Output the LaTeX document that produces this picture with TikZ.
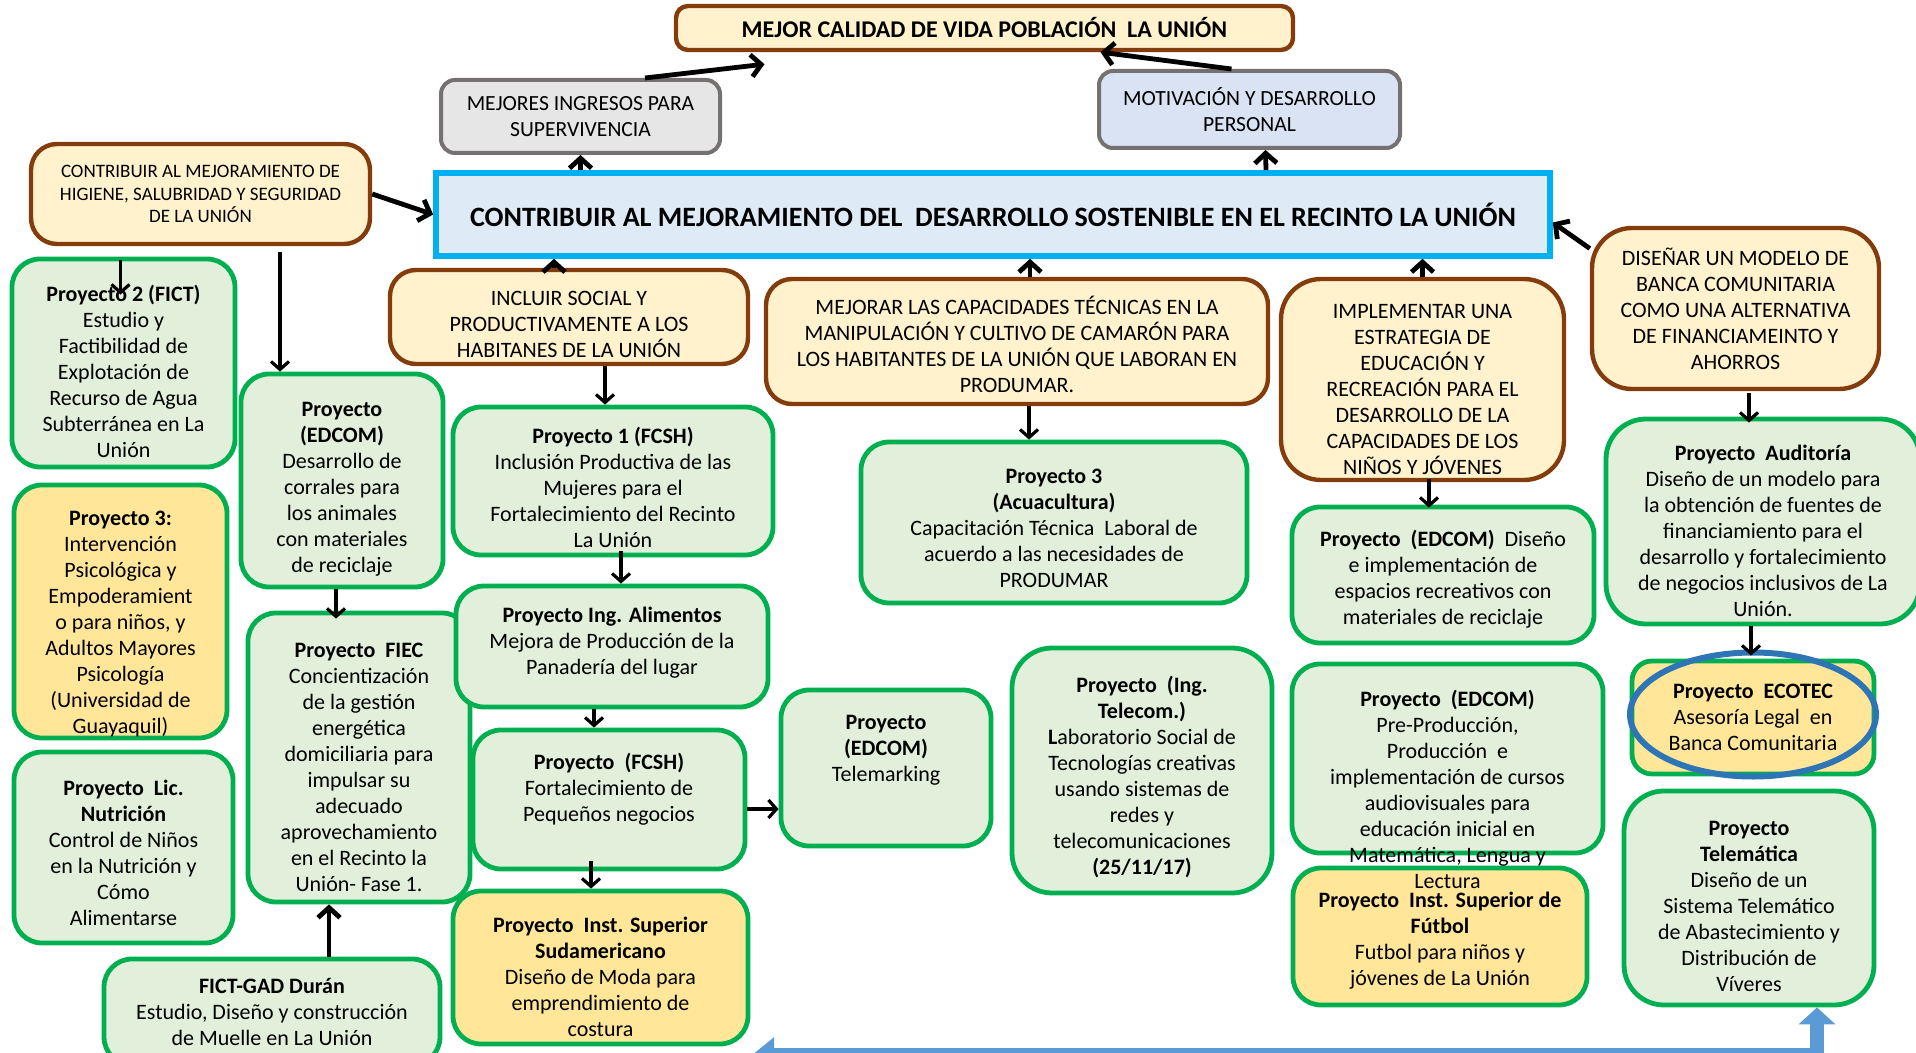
\documentclass[tikz,border=0pt]{standalone}
\usepackage{fontspec}
\setmainfont{Carlito}
\usetikzlibrary{positioning, calc, arrows.meta}
\definecolor{cream}{HTML}{FFF2CC}
\definecolor{brownline}{HTML}{843C0C}
\definecolor{grayfill}{HTML}{E7E6E6}
\definecolor{grayline}{HTML}{767171}
\definecolor{bluegray}{HTML}{DAE3F3}
\definecolor{mainfill}{HTML}{DEEBF7}
\definecolor{cyanline}{HTML}{00B0F0}
\definecolor{greenfill}{HTML}{E2EFDA}
\definecolor{greenline}{HTML}{00B050}
\definecolor{yellowfill}{HTML}{FFE699}
\definecolor{ellblue}{HTML}{2E75B6}
\definecolor{blockblue}{HTML}{5B9BD5}
\newcommand{\topgap}[1]{\rule{0pt}{#1}}
\tikzset{
    >={Straight Barb[length=4pt,width=9pt]},
    boxsize/.style 2 args={minimum width=#1*0.5pt, minimum height=#2*0.5pt},
    txt/.style={align=center, font=\fontsize{11}{13}\selectfont},
    goalbox/.style={txt, draw=brownline, fill=cream, line width=2.2pt, rounded corners=13pt, inner sep=1pt},
    resbox/.style={txt, font=\fontsize{10.8}{13}\selectfont, draw=grayline, line width=2pt, rounded corners=7pt, inner sep=2pt},
    mainbox/.style={draw=cyanline, fill=mainfill, line width=2.8pt, font=\fontsize{14}{16}\selectfont\bfseries},
    projbox/.style={txt, draw=greenline, fill=greenfill, line width=2.4pt, rounded corners=14pt, inner sep=1.5pt},
    yellowbox/.style={projbox, fill=yellowfill},
    link/.style={->, line width=1.6pt},
    biglink/.style={->, line width=2.4pt, >={Straight Barb[length=5pt,width=11pt]}},
    bluelink/.style={draw=blockblue, line width=7pt, line join=miter,
        {Triangle[length=11pt,width=17pt]}-{Triangle[length=8.5pt,width=18pt]}},
}

\begin{document}
\begin{tikzpicture}[x=0.5pt, y=-0.5pt]
\useasboundingbox (0,0) rectangle (1916,1053);
\clip (0,0) rectangle (1916,1053);

\node[goalbox, boxsize={617}{44}, rounded corners=6pt, font=\fontsize{12}{14}\selectfont\bfseries] (vida) at (984.5,28) {MEJOR CALIDAD DE VIDA POBLACIÓN\ \ LA UNIÓN};
\node[resbox, fill=grayfill, boxsize={279}{73}] (ingresos) at (580.5,116.5) {MEJORES INGRESOS PARA\\SUPERVIVENCIA};
\node[resbox, fill=bluegray, boxsize={301}{77}] (motiva) at (1249.5,109.5) {MOTIVACIÓN Y DESARROLLO\\PERSONAL};
\node[mainbox, boxsize={1114}{83}] (meta) at (993,214.5) {CONTRIBUIR AL MEJORAMIENTO DEL\ \ DESARROLLO SOSTENIBLE EN EL RECINTO LA UNIÓN};

\node[goalbox, boxsize={339}{100}, font=\fontsize{9.5}{11.3}\selectfont] (higiene) at (200.5,194) {CONTRIBUIR AL MEJORAMIENTO DE\\HIGIENE, SALUBRIDAD Y SEGURIDAD\\DE LA UNIÓN};
\node[goalbox, boxsize={358}{94}] (incluir) at (569,317) {\topgap{15pt}INCLUIR SOCIAL Y\\PRODUCTIVAMENTE A LOS\\HABITANES DE LA UNIÓN};
\node[goalbox, boxsize={502}{125}] (camaron) at (1017,341.5) {\topgap{12pt}MEJORAR LAS CAPACIDADES TÉCNICAS EN LA\\MANIPULACIÓN Y CULTIVO DE CAMARÓN PARA\\LOS HABITANTES DE LA UNIÓN QUE LABORAN EN\\PRODUMAR.};
\node[goalbox, boxsize={283}{201}, rounded corners=20pt] (educa) at (1422.5,379.5) {\topgap{17pt}IMPLEMENTAR UNA\\ESTRATEGIA DE\\EDUCACIÓN Y\\RECREACIÓN PARA EL\\DESARROLLO DE LA\\CAPACIDADES DE LOS\\NIÑOS Y JÓVENES};
\node[goalbox, boxsize={287}{161}, rounded corners=20pt] (banca) at (1735.5,308.5) {DISEÑAR UN MODELO DE\\BANCA COMUNITARIA\\COMO UNA ALTERNATIVA\\DE FINANCIAMEINTO Y\\AHORROS};

\node[projbox, boxsize={223}{208}] (fict) at (123.5,363) {\topgap{17pt}\textbf{Proyecto 2 (FICT)}\\Estudio y\\Factibilidad de\\Explotación de\\Recurso de Agua\\Subterránea en La\\Unión};
\node[projbox, boxsize={202}{213}] (corrales) at (342,480.5) {\topgap{15.5pt}\textbf{Proyecto}\\\textbf{(EDCOM)}\\Desarrollo de\\corrales para\\los animales\\con materiales\\de reciclaje};
\node[yellowbox, boxsize={213}{253}] (psico) at (120.5,611.5) {};
\node[txt] (psicot) at (120.5,624.5) {\textbf{Proyecto 3:}\\Intervención\\Psicológica y\\Empoderamient\\o para niños, y\\Adultos Mayores\\Psicología\\(Universidad de\\Guayaquil)};
\node[projbox, boxsize={219}{191}] (nutri) at (123.5,847.5) {\topgap{13.3pt}\textbf{Proyecto\ \ Lic.}\\\textbf{Nutrición}\\Control de Niños\\en la Nutrición y\\Cómo\\Alimentarse};
\node[projbox, boxsize={222}{289}] (fiec) at (359,757.5) {\topgap{17pt}\textbf{Proyecto\ \ FIEC}\\Concientización\\de la gestión\\energética\\domiciliaria para\\impulsar su\\adecuado\\aprovechamiento\\en el Recinto la\\Unión- Fase 1.};
\node[projbox, boxsize={336}{106}] (duran) at (272,1012) {\textbf{FICT-GAD Durán}\\Estudio, Diseño y construcción\\de Muelle en La Unión};

\node[projbox, boxsize={320}{148}] (fcsh1) at (613,481) {\topgap{15pt}\textbf{Proyecto 1 (FCSH)}\\Inclusión Productiva de las\\Mujeres para el\\Fortalecimiento del Recinto\\La Unión};
\node[projbox, boxsize={312}{121}] (alim) at (612,646.5) {};
\node[txt] (alimt) at (612,643) {\textbf{Proyecto Ing. Alimentos}\\Mejora de Producción de la\\Panadería del lugar};
\node[projbox, boxsize={272}{139}] (negocios) at (609,799.5) {};
\node[txt] (negociost) at (609,789.5) {\textbf{Proyecto\ \ (FCSH)}\\Fortalecimiento de\\Pequeños negocios};
\node[yellowbox, boxsize={295}{153}] (moda) at (600.5,967.5) {\topgap{17pt}\textbf{Proyecto\ \ Inst. Superior}\\\textbf{Sudamericano}\\Diseño de Moda para\\emprendimiento de\\costura};
\node[projbox, boxsize={210}{156}] (telemk) at (886,768) {};
\node[txt] (telemkt) at (886,750) {\textbf{Proyecto}\\\textbf{(EDCOM)}\\Telemarking};

\node[projbox, boxsize={386}{161}] (acua) at (1054,522.5) {\topgap{13.3pt}\textbf{Proyecto 3}\\\textbf{(Acuacultura)}\\Capacitación Técnica\ \ Laboral de\\acuerdo a las necesidades de\\PRODUMAR};
\node[projbox, boxsize={260}{245}, rounded corners=20pt] (telecom) at (1142,770.5) {\topgap{14.3pt}\textbf{Proyecto\ \ (Ing.}\\\textbf{Telecom.)}\\\textbf{L}aboratorio Social de\\Tecnologías creativas\\usando sistemas de\\redes y\\telecomunicaciones\\\textbf{(25/11/17)}};

\node[projbox, boxsize={302}{136}] (espacios) at (1443,575) {\topgap{12pt}\textbf{Proyecto\ \ (EDCOM)}\ \ Diseño\\e implementación de\\espacios recreativos con\\materiales de reciclaje};
\node[projbox, boxsize={311}{189}] (preprod) at (1447.5,758.5) {};
\node[yellowbox, boxsize={294}{137}] (futbol) at (1440,936.5) {\topgap{12pt}\textbf{Proyecto\ \ Inst. Superior de}\\\textbf{Fútbol}\\Futbol para niños y\\jóvenes de La Unión};
\node[txt] (preprodt) at (1447.5,789) {\textbf{Proyecto\ \ (EDCOM)}\\Pre-Producción,\\Producción\ \ e\\implementación de cursos\\audiovisuales para\\educación inicial en\\Matemática, Lengua y\\Lectura};

\node[projbox, boxsize={314}{205}, rounded corners=20pt] (audit) at (1763,521.5) {\topgap{17pt}\textbf{Proyecto\ \ Auditoría}\\Diseño de un modelo para\\la obtención de fuentes de\\financiamiento para el\\desarrollo y fortalecimiento\\de negocios inclusivos de La\\Unión.};
\node[yellowbox, boxsize={242}{113}, rounded corners=10pt] (ecotec) at (1753,717.5) {\textbf{Proyecto\ \ ECOTEC}\\Asesoría Legal\ \ en\\Banca Comunitaria};
\node[projbox, boxsize={250}{214}, rounded corners=20pt] (telemat) at (1749,898) {\topgap{15.6pt}\textbf{Proyecto}\\\textbf{Telemática}\\Diseño de un\\Sistema Telemático\\de Abastecimiento y\\Distribución de\\Víveres};

\draw[draw=ellblue, line width=3pt] ($(ecotec.center)+(0,-3)$) ellipse [x radius=61.5pt, y radius=31pt];

\draw[biglink] ($(ingresos.north)+(64.5,0)$) -- ($(vida.south)+(-220,12)$);
\draw[biglink] ($(motiva.north)+(-18,0)$) -- ($(vida.south)+(116,0)$);
\draw[biglink] (ingresos.south |- meta.north) -- (ingresos.south);
\draw[biglink] ($(meta.north)+(273,0)$) -- ($(motiva.south)+(16,0)$);
\draw[biglink] (higiene.east) -- (meta.west);
\draw[biglink] ($(incluir.north)+(-15,0)$) -- ($(meta.south)+(-439,0)$);
\draw[biglink] ($(camaron.north)+(13,0)$) -- ($(meta.south)+(37,0)$);
\draw[biglink] (educa.north) -- (educa.north |- meta.south);
\draw[biglink] ($(banca.west)+(0,-60)$) -- ($(meta.east)+(0,8)$);

\draw[link] ($(higiene.south)+(-80,14)$) -- ($(fict.north)+(-3,38)$);
\draw[link] ($(higiene.south)+(79.5,6)$) -- ($(corrales.north)+(-62,0)$);
\draw[link] ($(incluir.south)+(36,0)$) -- ($(fcsh1.north)+(-8,0)$);
\draw[link] ($(fcsh1.south)+(8,-6)$) -- ($(alim.north)+(9,0)$);
\draw[link] ($(alim.south)+(-18,0)$) -- ($(negocios.north)+(-15,0)$);
\draw[link] ($(negocios.south)+(-18,-10)$) -- ($(moda.north)+(-9.5,0)$);
\draw[link] ($(negocios.east)+(0,9.5)$) -- ($(telemk.west)+(0,41)$);
\draw[link] ($(corrales.south)+(-6,0)$) -- ($(fiec.north)+(-23,8)$);
\draw[biglink] ($(duran.north)+(57,0)$) -- ($(fiec.south)+(-30,0)$);
\draw[link] ($(camaron.south)+(12,0)$) -- ($(acua.north)+(-25,0)$);
\draw[link] ($(educa.south)+(6.5,-3)$) -- ($(espacios.north)+(-14,3)$);
\draw[link] ($(banca.south)+(13.5,2)$) -- ($(audit.north)+(-14,6)$);
\draw[link] ($(audit.south)+(-12,0)$) -- ($(ecotec.north)+(-2,-3)$);

\coordinate (flecha) at (752,1055);
\coordinate (telemin) at ($(telemat.south)+(68,0)$);
\draw[bluelink] (flecha) -- (telemin |- flecha) -- (telemin);
\end{tikzpicture}
\end{document}
